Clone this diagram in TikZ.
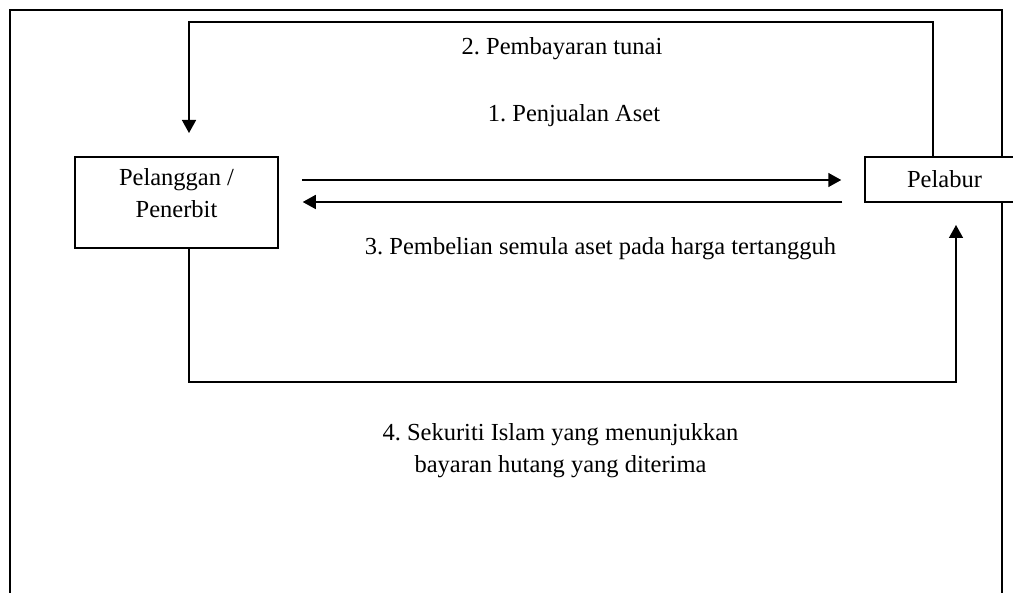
\documentclass[tikz,border=0pt]{standalone}
\usepackage{fontspec}
\setmainfont{Liberation Serif}
\usetikzlibrary{arrows.meta}
\frenchspacing
\begin{document}
\begin{tikzpicture}[x=1pt,y=-1pt,
  ln/.style={line width=1.5pt, black},
  arr/.style={ln, -{Triangle[length=13pt,width=14pt]}},
  box/.style={draw, line width=1.5pt, fill=white, inner sep=0pt},
  txt/.style={font=\frenchspacing\fontsize{24.5}{32}\selectfont, inner sep=0pt, align=center}]
\useasboundingbox (0,0) rectangle (1013,593);
% outer frame (open at the bottom)
\draw[ln, line width=2pt] (9.5,600) -- (9.5,10) -- (1002,10) -- (1002,600);
% boxes
\node[box, minimum width=203pt, minimum height=91pt] (pel) at (176.5,202.5) {};
\node[txt] (peltxt) at (176.5,193) {Pelanggan /\\Penerbit};
\node[box, minimum width=159pt, minimum height=45pt, txt, draw, inner sep=0pt] (lab) at (944.5,179.5) {Pelabur};
% helper coordinates
\coordinate (lx) at (189,0);
\coordinate (rx) at (933,0);
\coordinate (ya) at (0,180);
\coordinate (yb) at (0,202);
\coordinate (toptip) at (189,133);
\coordinate (bottip) at (956,225);
% loop 2 (top)
\draw[arr] (rx |- lab.north) -- (933,22) -| (toptip);
% arrows 1 and 3
\draw[arr, shorten <=23pt, shorten >=23pt] (pel.east |- ya) -- (lab.west |- ya);
\draw[arr, shorten <=22pt, shorten >=24pt] (lab.west |- yb) -- (pel.east |- yb);
% loop 4 (bottom)
\draw[arr] (lx |- pel.south) -- (189,382) -| (bottip);
% labels
\node[txt, anchor=base] (l2) at (562,55) {2. Pembayaran tunai};
\node[txt, anchor=base] (l1) at (574,122) {1. Penjualan Aset};
\node[txt, anchor=base] (l3) at (600.5,255) {3. Pembelian semula aset pada harga tertangguh};
\node[txt] (l4) at (560.5,450.5) {4. Sekuriti Islam yang menunjukkan\\bayaran hutang yang diterima};
\end{tikzpicture}
\end{document}
